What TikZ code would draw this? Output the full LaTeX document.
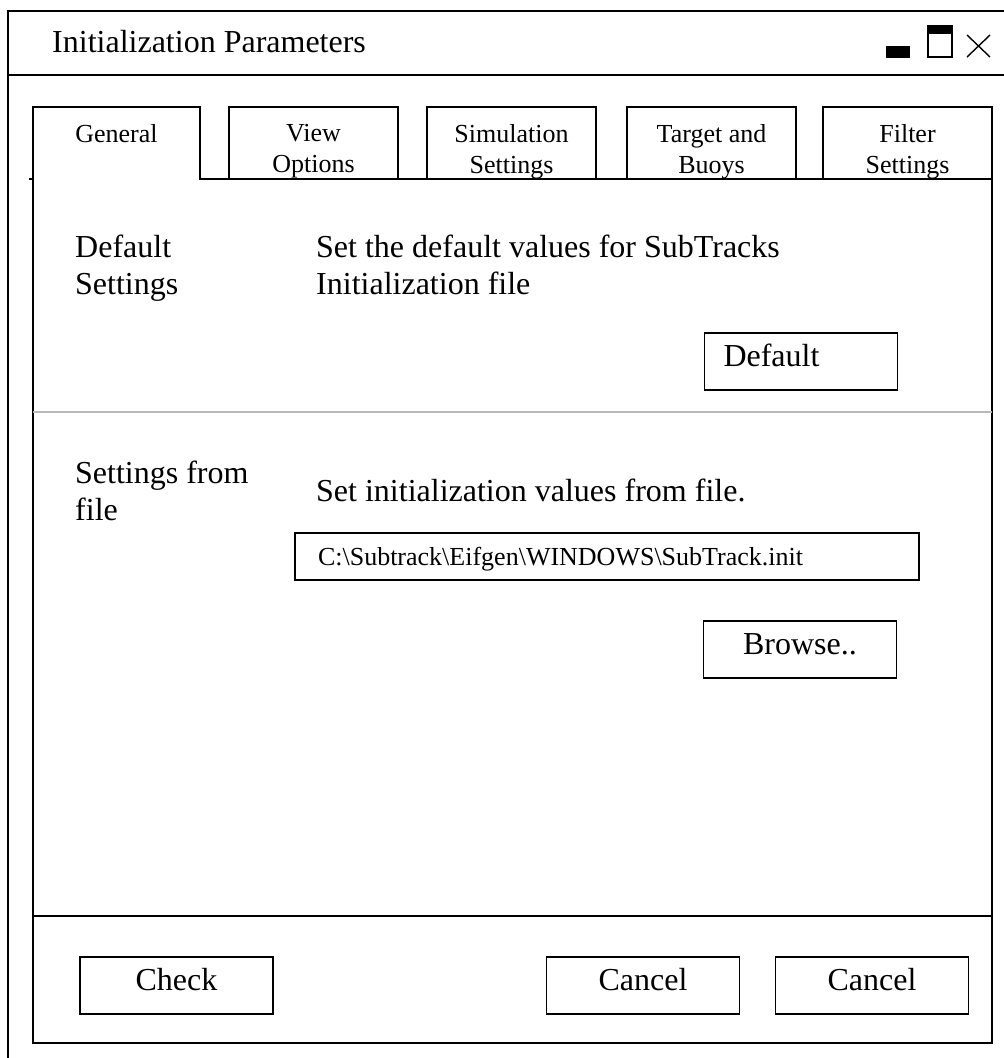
\documentclass[tikz,border=0pt]{standalone}
\usepackage{fontspec}
\setmainfont{Liberation Serif}
\usetikzlibrary{positioning}

\newcommand{\mainsize}{\fontsize{32}{37}\selectfont}
\newcommand{\tabsize}{\fontsize{26}{31}\selectfont}

\begin{document}
\begin{tikzpicture}[
  x=1pt, y=-1pt,
  frame/.style={draw=black, line width=1.6pt},
  sepline/.style={draw=gray!55, line width=1.6pt},
  txt/.style={anchor=north west, inner sep=0pt, align=left, font=\mainsize},
  tabtxt/.style={anchor=north, inner sep=0pt, align=center, font=\tabsize},
  button/.style={draw, line width=1.6pt, minimum width=193pt, minimum height=57pt,
                 inner sep=0pt, font=\mainsize, text height=22pt, text depth=12pt},
  buttonleft/.style={button, text width=155pt, align=left},
  pathbox/.style={draw, line width=1.6pt, minimum width=624pt, minimum height=47pt,
                  inner sep=0pt, text width=578pt, align=left, font=\tabsize,
                  text height=18pt, text depth=0pt}
]
  \useasboundingbox (0,0) rectangle (1004,1058);
  \clip (0,0) rectangle (1004,1058);

  % Window frame and title bar
  \draw[frame] (8,11) rectangle (1014,1070);
  \draw[frame] (8,75) -- (1014,75);
  \node[txt] (title) at (52,30) {Initialization Parameters};

  % Window controls
  \fill (886,46) rectangle (910,58);
  \draw[line width=1.6pt] (928,26) rectangle (952,57);
  \fill (928,26) rectangle (952,34);
  \draw[line width=1.4pt] (967,35) -- (990,57) (967,57) -- (990,35);

  % Panel with the open General tab
  \draw[frame] (33,1043) -- (33,107) -- (200,107) -- (200,179) -- (992,179)
               -- (992,1043) -- cycle;
  \draw[frame] (29,179) -- (33,179);
  \node[tabtxt] (tgen) at (116.5,124) {General};

  % Other tabs
  \foreach \tx/\tid/\tname in {229/view/{View\\Options}, 427/sim/{Simulation\\Settings},
                               627/target/{Target and\\Buoys}, 823/filter/{Filter\\Settings}}{
    \draw[frame] (\tx,107) rectangle ++(169,72);
    \node[tabtxt] (t\tid) at (\tx+84.5,124) {\tname};
  }

  % Default settings
  \node[txt] (defl) at (75,235) {Default\\Settings};
  \node[txt] (deft) at (316,235) {Set the default values for SubTracks\\Initialization file};
  \node[buttonleft] (bdefault) at (801,361.5) {Default};

  \draw[sepline] (33,412) -- (992,412);

  % Settings from file
  \node[txt] (filel) at (75,461) {Settings from\\file};
  \node[txt] (filet) at (316,479) {Set initialization values from file.};
  \node[pathbox] (path) at (607,556.5) {C:\textbackslash Subtrack\textbackslash Eifgen\textbackslash WINDOWS\textbackslash SubTrack.init};
  \node[button] (bbrowse) at (800,649.5) {Browse..};

  % Bottom bar
  \draw[frame] (33,916) -- (992,916);
  \node[button] (bcheck) at (176.5,985.5) {Check};
  \node[button] (bcancel) at (643,985.5) {Cancel};
  \node[button] (bcancelb) at (872,985.5) {Cancel};
\end{tikzpicture}
\end{document}
